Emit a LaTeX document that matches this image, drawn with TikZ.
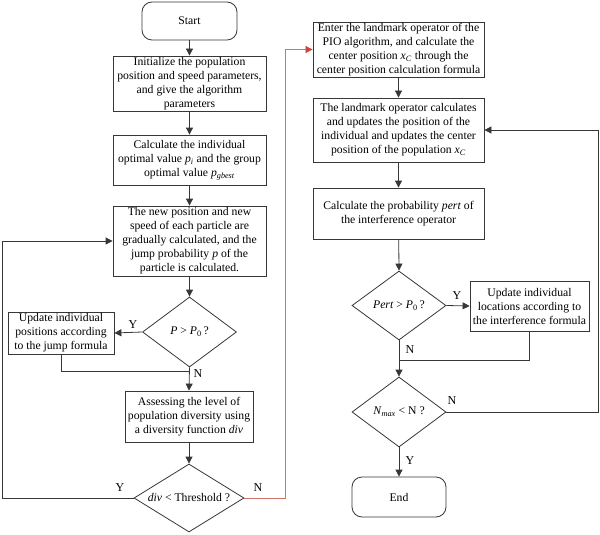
\documentclass[tikz,border=0pt]{standalone}
\usepackage{fontspec}
\setmainfont{Liberation Serif}
\usetikzlibrary{shapes.geometric,arrows.meta}
\definecolor{ln}{RGB}{55,55,55}
\definecolor{rd}{RGB}{200,70,60}
\definecolor{rdl}{RGB}{212,115,105}
\begin{document}
\begin{tikzpicture}[x=1pt,y=-1pt,
  every node/.style={font=\fontsize{11.7}{14}\selectfont, text=black},
  box/.style={draw=ln, line width=0.8pt, align=center, inner sep=0pt},
  term/.style={box, rounded corners=10pt},
  dec/.style={draw=ln, line width=0.8pt, diamond, aspect=1.6, inner sep=0pt},
  conn/.style={draw=ln, line width=0.8pt},
  arr/.style={conn, -{Triangle[length=7pt,width=7pt]}},
  lab/.style={font=\fontsize{12}{13}\selectfont}
]
\useasboundingbox (0,0) rectangle (600,535);
% left column
\node[term, minimum width=95pt, minimum height=38pt] (start) at (189.5,21) {Start};
\node[box, minimum width=153pt, minimum height=55pt] (init) at (189.5,83.5)
  {Initialize the population\\position and speed parameters,\\and give the algorithm\\parameters};
\node[box, minimum width=153pt, minimum height=50pt] (calc) at (189.5,160)
  {Calculate the individual\\optimal value \textit{p}\textsubscript{\textit{i}} and the group\\optimal value \textit{p}\textsubscript{\textit{gbest}}};
\node[box, minimum width=153pt, minimum height=70pt] (newpos) at (189.5,241)
  {The new position and new\\speed of each particle are\\gradually calculated, and the\\jump probability \textit{p} of the\\particle is calculated.};
\node[dec, minimum width=94pt, minimum height=70pt] (d1) at (189.5,332) {\textit{P} > \textit{P}\textsubscript{0}\,?};
\node[box, minimum width=106pt, minimum height=42pt] (jump) at (61,333)
  {Update individual\\positions according\\to the jump formula};
\node[box, minimum width=128pt, minimum height=51pt] (assess) at (189,416.5)
  {Assessing the level of\\population diversity using\\a diversity function \textit{div}};
\node[dec, minimum width=110pt, minimum height=68pt] (d2) at (189,498) {\textit{div} < Threshold ?};
% right column
\node[box, minimum width=171pt, minimum height=55pt] (enter) at (398.5,49.5)
  {Enter the landmark operator of the\\PIO algorithm, and calculate the\\center position \textit{x}\textsubscript{\textit{C}} through the\\center position calculation formula};
\node[box, minimum width=171pt, minimum height=64pt] (land) at (398.5,130)
  {The landmark operator calculates\\and updates the position of the\\individual and updates the center\\position of the population \textit{x}\textsubscript{\textit{C}}};
\node[box, minimum width=171pt, minimum height=51pt] (prob) at (398.5,213.5)
  {Calculate the probability \textit{pert} of\\the interference operator};
\node[dec, minimum width=94pt, minimum height=69pt] (d3) at (399,305.5) {\textit{Pert} > \textit{P}\textsubscript{0}\,?};
\node[box, minimum width=119pt, minimum height=50pt] (interf) at (529.5,306)
  {Update individual\\locations according to\\the interference formula};
\node[dec, minimum width=94pt, minimum height=70pt] (d4) at (399,412) {\textit{N}\textsubscript{\textit{max}} < N ?};
\node[term, minimum width=94pt, minimum height=40pt] (end) at (399,497) {End};
% coordinates
\coordinate (j1) at (189,371);
\coordinate (j2) at (399,360);
\coordinate (lp) at (2,498);
\coordinate (rp) at (285,498);
\coordinate (np) at (598,412);
% connectors
\draw[arr] (start) -- (init);
\draw[arr] (init) -- (calc);
\draw[arr] (calc) -- (newpos);
\draw[arr] (newpos) -- (d1.north);
\draw[arr] (d1.west) -- (jump.east);
\draw[conn] (jump.south) |- (j1);
\draw[arr] (d1.south) -- (assess.north);
\draw[arr] (assess) -- (d2.north);
\draw[arr] (d2.west) -- (lp) |- (newpos.west);
\draw[draw=rdl, line width=0.7pt, -{Triangle[length=7pt,width=7pt,color=rd]}] (d2.east) -- (rp) |- (enter.west);
\draw[arr] (enter) -- (land);
\draw[arr] (land) -- (prob);
\draw[arr] (prob) -- (d3.north);
\draw[arr] (d3.east) -- (interf.west);
\draw[conn] (interf.south) |- (j2);
\draw[arr] (d3.south) -- (d4.north);
\draw[arr] (d4.east) -- (np) |- (land.east);
\draw[arr] (d4.south) -- (end.north);
% labels
\node[lab] (ly1) at (133,325) {Y};
\node[lab] (ln1) at (198,374) {N};
\node[lab] (ly2) at (120,488) {Y};
\node[lab] (ln2) at (258,488) {N};
\node[lab] (ly3) at (457,296) {Y};
\node[lab] (ln3) at (410,350) {N};
\node[lab] (ln4) at (452,401) {N};
\node[lab] (ly4) at (410,461) {Y};
\end{tikzpicture}
\end{document}
